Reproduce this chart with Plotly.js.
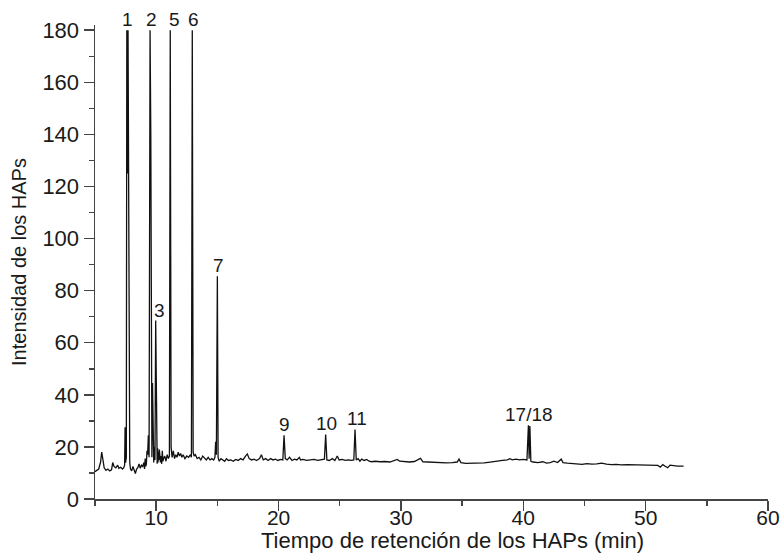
<!DOCTYPE html>
<html>
<head>
<meta charset="utf-8">
<script src="https://cdn.plot.ly/plotly-3.0.1.min.js"></script>
<style>html,body{margin:0;padding:0;background:#fff;}#chart{width:781px;height:553px;}</style>
</head>
<body>
<div id="chart"></div>
<script>
// Retention time (min)
const time = [
 5.00,5.15,5.30,5.45,5.55,5.65,5.75,5.90,6.05,6.20,6.35,6.45,6.55,6.70,6.85,6.95,7.10,7.25,7.35,
 7.42,7.46,7.50,7.56,7.60,7.66,7.70,7.76,7.80,7.84,7.90,8.00,8.10,8.20,8.30,8.40,8.50,8.60,8.70,8.80,8.90,
 9.00,9.05,9.10,9.15,9.20,9.25,9.30,9.36,9.42,9.50,9.56,9.60,9.65,9.70,9.75,9.80,9.85,9.90,9.96,10.02,10.08,10.12,10.15,10.19,10.22,10.26,
 10.30,10.35,10.40,10.45,10.50,10.55,10.60,10.70,10.80,10.90,11.00,11.08,11.15,11.22,11.30,11.40,11.50,11.60,11.70,11.80,11.90,
 12.00,12.10,12.20,12.35,12.50,12.65,12.80,12.88,12.95,13.02,13.10,13.20,13.35,13.50,13.65,13.80,13.95,
 14.10,14.25,14.40,14.55,14.70,14.80,14.86,14.92,15.00,15.06,15.15,15.30,15.45,15.60,15.75,15.90,
 16.10,16.30,16.50,16.70,16.90,17.10,17.30,17.45,17.60,17.80,18.00,18.20,18.45,18.60,18.75,18.95,
 19.15,19.35,19.55,19.75,19.95,20.15,20.35,20.45,20.55,20.70,20.90,21.10,21.30,21.50,21.70,21.80,
 22.00,22.30,22.60,22.90,23.20,23.50,23.75,23.85,23.95,24.15,24.40,24.60,24.80,24.95,25.20,25.45,
 25.70,25.95,26.15,26.25,26.35,26.50,26.65,26.80,27.00,27.20,27.40,27.60,27.90,28.30,28.70,29.10,
 29.50,29.70,29.90,30.30,30.70,31.10,31.60,31.80,32.20,32.70,33.20,33.70,34.20,34.60,34.75,34.90,
 35.30,35.80,36.30,36.80,37.30,37.80,38.30,38.70,38.90,39.10,39.40,39.70,40.00,40.30,40.42,40.48,
 40.54,40.62,40.80,41.20,41.60,41.90,42.20,42.50,42.80,43.10,43.25,43.60,44.00,44.40,44.80,45.20,
 45.60,46.00,46.40,46.80,47.20,47.60,48.00,48.50,49.00,49.50,50.00,50.50,51.00,51.20,51.40,51.60,
 51.80,52.00,52.30,52.60,53.10
];
// Detector intensity
const intensity = [
 10.5,11.0,11.5,14.0,18.0,15.0,12.0,11.0,11.5,10.8,11.2,14.0,12.5,12.0,13.0,11.8,12.2,11.5,12.0,
 13.0,27.5,14.0,16.0,180,125,180,60,32,14.0,11.5,10.8,12.5,11.0,9.8,11.5,12.0,13.5,11.8,13.0,12.5,
 14.0,11.5,15.5,12.5,13.5,18.5,17.0,24.5,16.0,180,140,30,16,44.5,18,14,20,15,68.5,18,13.5,19.5,14.0,18.0,15,19.0,
 17.5,14.0,16.5,13.5,18.5,14.5,15.5,16.5,14.5,17.0,15.5,16.5,180,20,16,18.5,15.5,17.0,16.0,18.0,16.5,
 17.5,16.0,17.0,15.5,16.5,16.0,17.0,16.0,180,18,16.5,17.0,15.5,16.0,15.0,16.5,15.5,
 15.0,16.0,15.0,15.5,15.0,16.0,22.0,17.0,85.5,16.0,14.5,15.5,15.0,14.5,15.5,14.8,
 15.0,14.5,15.2,14.8,15.5,15.0,16.5,17.3,15.5,15.0,15.3,14.8,15.5,17.0,15.0,15.5,
 14.8,15.5,15.0,15.3,14.8,15.2,15.0,24.5,15.5,15.0,16.0,14.8,15.3,15.0,16.0,15.0,
 15.2,14.8,15.0,15.2,14.8,15.0,15.3,24.8,15.0,14.8,15.5,14.8,16.5,15.0,15.2,14.8,
 15.0,14.8,15.0,26.7,15.0,15.5,14.5,15.3,14.8,15.2,14.5,14.3,14.5,14.3,14.4,14.2,
 14.8,15.2,14.5,14.3,14.2,14.4,15.6,14.3,14.2,14.0,14.1,13.9,14.0,14.2,15.3,14.0,
 13.7,13.8,13.7,13.9,14.2,14.6,14.8,15.0,15.5,15.0,15.3,15.0,15.2,15.0,28.3,15.5,
 28.0,14.5,14.2,14.0,14.3,13.8,14.0,14.5,14.0,15.3,14.0,13.8,13.6,13.4,13.3,13.6,
 13.4,13.5,13.8,13.4,13.2,13.3,13.1,13.2,13.1,13.2,13.0,13.0,12.9,12.2,13.2,12.6,
 12.0,13.0,12.8,12.6,12.6
];
// Peak labels: retention time of the label and the peak top it sits on
const peakLabels = ["1","2","3","5","6","7","9","10","11","17/18"];
const labelTime  = [7.62, 9.58, 10.28, 11.48, 13.05, 15.10, 20.50, 23.90, 26.42, 40.50];
const labelInt   = [180, 180, 68.5, 180, 180, 85.5, 24.5, 24.8, 26.7, 28.3];

const xTitle = "Tiempo de retención de los HAPs (min)";
const yTitle = "Intensidad de los HAPs";

const fontFam = "Liberation Sans, Arial, Helvetica, sans-serif";
const annotations = peakLabels.map((t,i)=>({
  x: labelTime[i], y: labelInt[i], xref:"x", yref:"y", text: t,
  showarrow:false, xanchor:"center", yanchor:"bottom", yshift:-2,
  font:{family:fontFam, size:19, color:"#1a1a1a"}
}));
// x-axis title (placed slightly right of centre as in the original figure)
annotations.push({
  x:0.531, y:-0.087, xref:"paper", yref:"paper", text:xTitle,
  showarrow:false, xanchor:"center", yanchor:"middle", borderpad:0,
  font:{family:fontFam, size:22, color:"#1a1a1a"}
});

const trace = {
  x: time, y: intensity, type:"scatter", mode:"lines",
  line:{color:"#111", width:1.3}, hoverinfo:"skip", cliponaxis:true
};

const axisCommon = {
  showgrid:false, zeroline:false, showline:true, linecolor:"#444", linewidth:1.5,
  ticks:"outside", tickcolor:"#444", tickwidth:1.5, ticklen:10,
  tickfont:{family:fontFam, size:21, color:"#1a1a1a"}
};

const layout = {
  width:781, height:553,
  margin:{l:95, r:13, t:25, b:54, pad:0},
  paper_bgcolor:"#fff", plot_bgcolor:"#fff",
  showlegend:false,
  xaxis: Object.assign({}, axisCommon, {
    range:[5,60], tick0:0, dtick:10, autorange:false, ticklabelstandoff:-11,
    minor:{dtick:5, tick0:0, ticks:"outside", ticklen:5, tickcolor:"#444", tickwidth:1.5}
  }),
  yaxis: Object.assign({}, axisCommon, {
    range:[0,182], tick0:0, dtick:20, autorange:false, ticklabelstandoff:0,
    tickfont:{family:fontFam, size:22, color:"#1a1a1a"},
    minor:{dtick:10, tick0:0, ticks:"outside", ticklen:5, tickcolor:"#444", tickwidth:1.5},
    title:{text:yTitle, font:{family:fontFam, size:20, color:"#1a1a1a"}, standoff:10}
  }),
  annotations: annotations
};

Plotly.newPlot("chart", [trace], layout, {staticPlot:true, displayModeBar:false});
</script>
</body>
</html>
